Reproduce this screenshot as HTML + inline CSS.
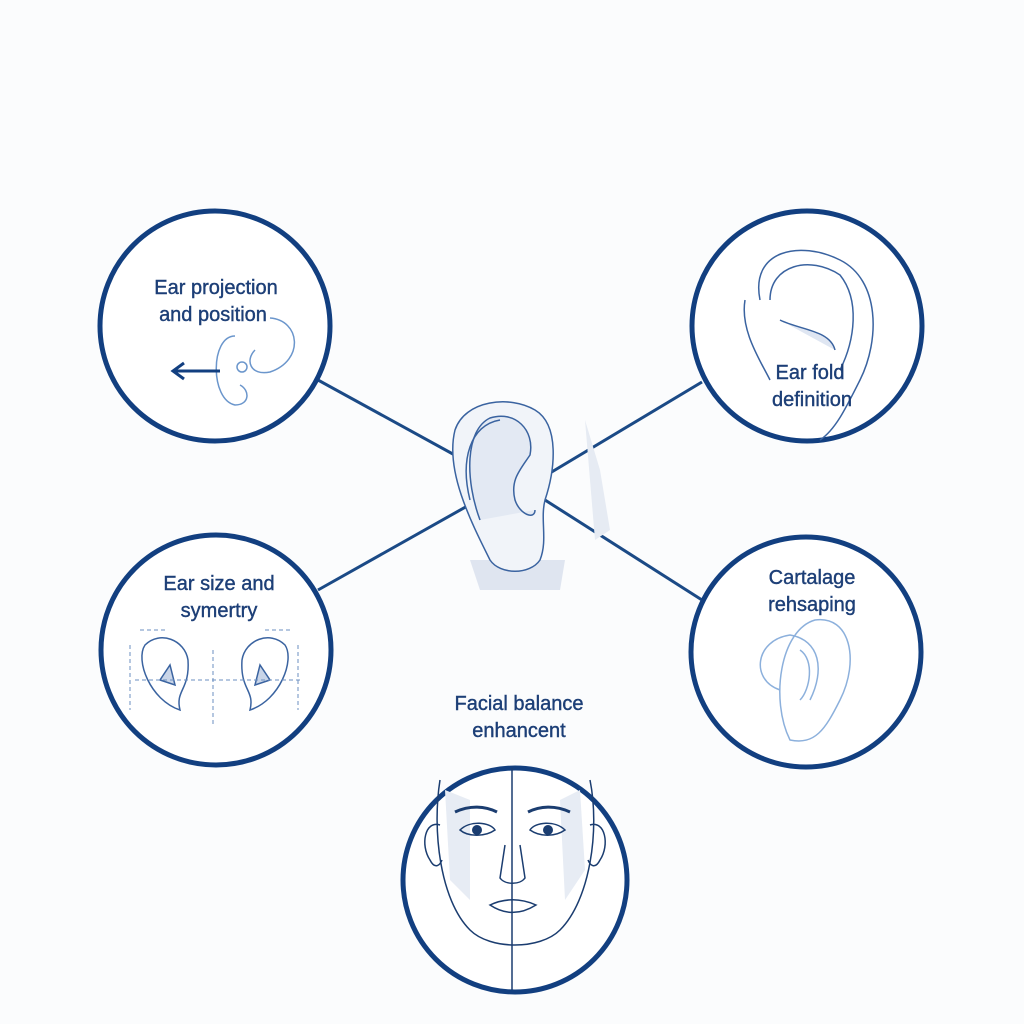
<!DOCTYPE html>
<html><head><style>
html,body{margin:0;padding:0;background:#fbfcfd;}
svg{display:block}
text{font-family:"Liberation Sans",sans-serif;font-size:20px;fill:#1d3f77;text-anchor:middle;stroke:#1d3f77;stroke-width:0.4px;}
</style></head><body>
<svg width="1024" height="1024" viewBox="0 0 1024 1024">
<rect width="1024" height="1024" fill="#fbfcfd"/>
<g stroke="#1b4a86" stroke-width="3" fill="none">
<line x1="318" y1="380" x2="482" y2="470"/>
<line x1="702" y1="382" x2="545" y2="476"/>
<line x1="318" y1="590" x2="478" y2="500"/>
<line x1="702" y1="600" x2="545" y2="500"/>
</g>
<g fill="none" stroke="#3a63a0" stroke-width="1.5">
<path d="M470 560 L480 590 L560 590 L565 560 Z" fill="#dfe5f0" stroke="none"/>
<path d="M585 420 L600 470 L610 530 L595 540 Z" fill="#e6ebf3" stroke="none"/>
<path d="M490 560 C470 520 445 470 455 430 C465 400 510 395 535 410 C560 425 555 470 545 500 C540 520 548 540 540 560 C530 575 500 575 490 560 Z" fill="#f1f4f9"/>
<path d="M480 520 C465 480 465 430 490 418 C515 410 535 430 530 455 C520 470 510 480 515 500 C520 515 535 520 535 510" fill="#e3e9f3"/>
<path d="M470 500 C460 460 470 425 500 420"/>
</g>
<g stroke="#123f80" stroke-width="5" fill="#fff">
<circle cx="215" cy="326" r="115"/>
<circle cx="807" cy="326" r="115"/>
<circle cx="216" cy="650" r="115"/>
<circle cx="806" cy="652" r="115"/>
<circle cx="515" cy="880" r="112"/>
</g>
<g fill="none" stroke="#6b96cc" stroke-width="1.5">
<path d="M270 318 C300 320 305 360 270 372 C250 376 245 360 255 350"/>
<path d="M235 336 C210 336 210 400 235 405 C250 405 250 390 240 385"/>
<circle cx="242" cy="367" r="5"/>
</g>
<path d="M220 371 H175 M184 363 L173 371 L184 379" stroke="#123f80" stroke-width="3" fill="none"/>
<text x="216" y="294">Ear projection</text>
<text x="213" y="321">and position</text>
<g fill="none" stroke="#3a63a0" stroke-width="1.5">
<path d="M760 300 C750 250 800 240 840 260 C880 280 880 340 860 380 C845 410 835 430 820 440" />
<path d="M770 300 C770 265 810 255 840 275 C860 300 855 340 840 370"/>
<path d="M780 320 C800 330 830 330 835 350" fill="#dfe6f2"/>
<path d="M745 300 C740 330 760 360 770 380"/>
</g>
<text x="810" y="379">Ear fold</text>
<text x="812" y="406">definition</text>
<text x="219" y="590">Ear size and</text>
<text x="219" y="617">symertry</text>
<g fill="none" stroke="#3a63a0" stroke-width="1.5">
<path d="M180 710 C150 700 135 660 145 645 C160 630 185 640 188 660 C190 690 175 690 180 710Z"/>
<path d="M250 710 C280 700 295 660 285 645 C270 630 245 640 242 660 C240 690 255 690 250 710Z"/>
<path d="M160 680 L175 685 L170 665Z M270 680 L255 685 L260 665Z" fill="#c9d5e8"/>
</g>
<g fill="none" stroke="#6b8fc0" stroke-width="1" stroke-dasharray="4 3">
<line x1="135" y1="680" x2="300" y2="680"/>
<line x1="213" y1="650" x2="213" y2="725"/>
<line x1="130" y1="645" x2="130" y2="710"/>
<line x1="298" y1="645" x2="298" y2="710"/>
<line x1="140" y1="630" x2="165" y2="630"/><line x1="265" y1="630" x2="290" y2="630"/>
</g>
<text x="812" y="584">Cartalage</text>
<text x="812" y="611">rehsaping</text>
<g fill="none" stroke="#8cb0dc" stroke-width="1.5">
<path d="M790 740 C770 700 780 630 815 620 C850 615 860 660 840 700 C825 730 815 745 790 740Z"/>
<path d="M780 690 C750 680 755 640 790 635 C820 640 825 670 810 700"/>
<path d="M800 650 C815 660 810 690 800 700"/>
</g>
<text x="519" y="710">Facial balance</text>
<text x="519" y="737">enhancent</text>
<path d="M445 790 L470 800 L470 900 L450 880Z M580 790 L560 800 L565 900 L585 870Z" fill="#e7ecf4"/>
<g fill="none" stroke="#1b3d70" stroke-width="1.5">
<path d="M440 780 C432 830 440 900 470 930 C490 950 540 950 560 930 C590 900 600 830 590 780"/>
<line x1="512" y1="768" x2="512" y2="990"/>
<path d="M440 825 C425 820 420 845 430 860 C435 870 440 865 442 860"/>
<path d="M590 825 C605 820 610 845 600 860 C595 870 590 865 588 860"/>
<path d="M455 812 C470 805 485 806 497 812 M528 812 C540 806 555 805 570 812" stroke-width="3"/>
<path d="M460 830 C470 820 490 822 495 830 C485 837 468 837 460 830Z M530 830 C535 822 555 820 565 830 C555 837 540 837 530 830Z"/>
<path d="M505 845 L500 878 C505 885 520 885 525 878 L520 845"/>
<path d="M490 905 C505 898 520 898 536 905 C520 915 505 915 490 905Z"/>
</g>
<circle cx="477" cy="830" r="5" fill="#1b3d70"/><circle cx="548" cy="830" r="5" fill="#1b3d70"/>
</svg>
</body></html>
